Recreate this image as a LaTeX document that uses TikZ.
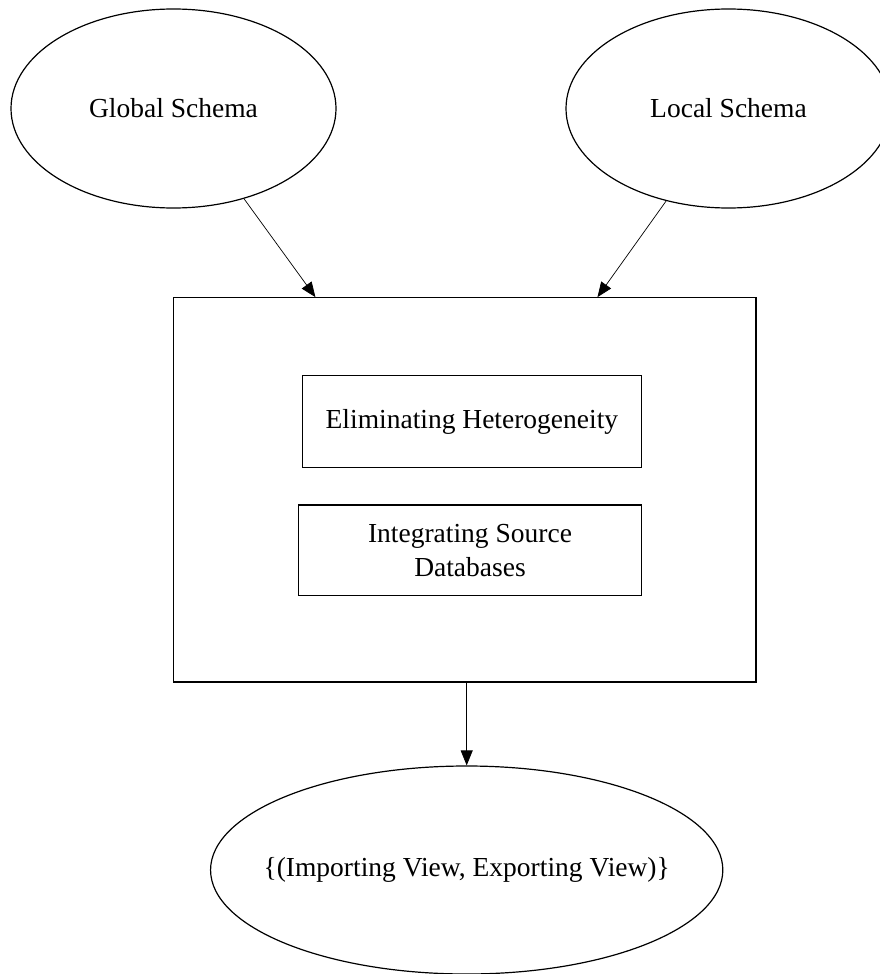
\documentclass[tikz,border=0pt]{standalone}
\usepackage{fontspec}
\setmainfont{Liberation Serif}
\usepackage{tikz}
\usetikzlibrary{positioning, calc, shapes.geometric, arrows.meta}
\tikzset{
    schema/.style={
        ellipse,
        draw,
        line width=1.2pt,
        inner sep=0pt,
        minimum width=325pt,
        minimum height=199pt
    },
    stepbox/.style={
        rectangle,
        draw,
        line width=1.2pt,
        inner sep=0pt,
        align=center
    },
    flow/.style={
        -{Triangle[length=15pt, width=12pt]},
        line width=0.7pt
    }
}

\begin{document}
\begin{tikzpicture}[x=1pt, y=-1pt, font=\fontsize{27.5}{34}\selectfont]
                \useasboundingbox (0,0) rectangle (880,974);
                \clip (0,0) rectangle (880,974);

                \node[schema] (global) at (173.5,108.5) {Global Schema};
                \node[schema] (local) at (728.5,108.5) {Local Schema};

                % Mapping box
                \node[stepbox, minimum width=582.5pt, minimum height=384.3pt] (mapping) at (464.8,489.9) {};
                \node[stepbox, minimum width=339pt, minimum height=91.6pt] (elim) at (471.9,421.5) {Eliminating Heterogeneity};
                \node[stepbox, minimum width=342.7pt, minimum height=90.3pt] (integ) at (470,550.2) {Integrating Source\\Databases};

                \node[schema, inner xsep=-22pt, minimum width=512pt, minimum height=208pt] (views) at (466.7,870) {\{(Importing View, Exporting View)\}};

                \coordinate (inG) at ($(mapping.north west)+(142.5,0)$);
                \coordinate (inL) at ($(mapping.north west)+(424.5,0)$);

                \draw[flow] (global.-52.5) -- (inG);
                \draw[flow] (local.-124.6) -- (inL);
                \draw[flow] (views.north |- mapping.south) -- (views.north);
            \end{tikzpicture}
\end{document}
